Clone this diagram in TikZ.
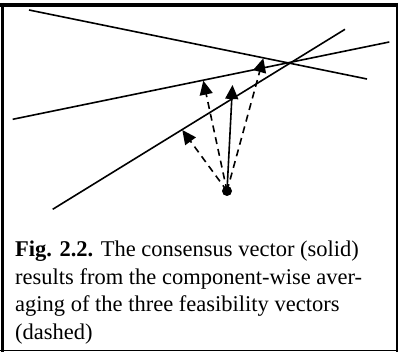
\documentclass[tikz,border=0pt]{standalone}
\usepackage{fontspec}
\setmainfont{Liberation Serif}
\usetikzlibrary{arrows.meta}
\begin{document}
\begin{tikzpicture}[x=1pt,y=-1pt,
  cline/.style={line width=1.6pt},
  vec/.style={line width=1.6pt,-{Triangle[length=14pt,width=13pt]}},
  dvec/.style={vec,dash pattern=on 7pt off 5pt},
  captxt/.style={anchor=base west,inner sep=0pt,font=\fontsize{22.5}{27}\selectfont}]
\useasboundingbox (0,0) rectangle (398,352);
% frame
\draw[line width=4pt] (0,5) -- (398,5);
\draw[line width=3pt] (2.5,3) -- (2.5,352);
\draw[line width=1.5pt] (0,350.5) -- (398,350.5);
\draw[line width=2pt] (397,3) -- (397,352);
% constraint lines
\coordinate (a1) at (29,10);   \coordinate (a2) at (367,79);
\coordinate (b1) at (12.7,119.3); \coordinate (b2) at (389.3,42);
\coordinate (c1) at (52.7,209.3); \coordinate (c2) at (345,29.3);
\draw[cline] (a1) -- (a2);
\draw[cline] (b1) -- (b2);
\draw[cline] (c1) -- (c2);
% point and vectors
\node[circle,fill=black,inner sep=0pt,minimum size=10pt] (p) at (227,191) {};
\coordinate (t1) at (182.3,130);
\coordinate (t2) at (203.3,80.7);
\coordinate (t3) at (263.3,58.3);
\coordinate (ts) at (232.5,85);
\draw[dvec] (p.center) -- (t1);
\draw[dvec] (p.center) -- (t2);
\draw[dvec] (p.center) -- (t3);
\draw[vec] (p.center) -- (ts);
% caption
\node[captxt] (l1) at (15,256.7) {\textbf{Fig. 2.2.} The consensus vector (solid)};
\node[captxt] (l2) at (15,284) {results from the component-wise aver-};
\node[captxt] (l3) at (15,311.5) {aging of the three feasibility vectors};
\node[captxt] (l4) at (15,339) {(dashed)};
\end{tikzpicture}
\end{document}
